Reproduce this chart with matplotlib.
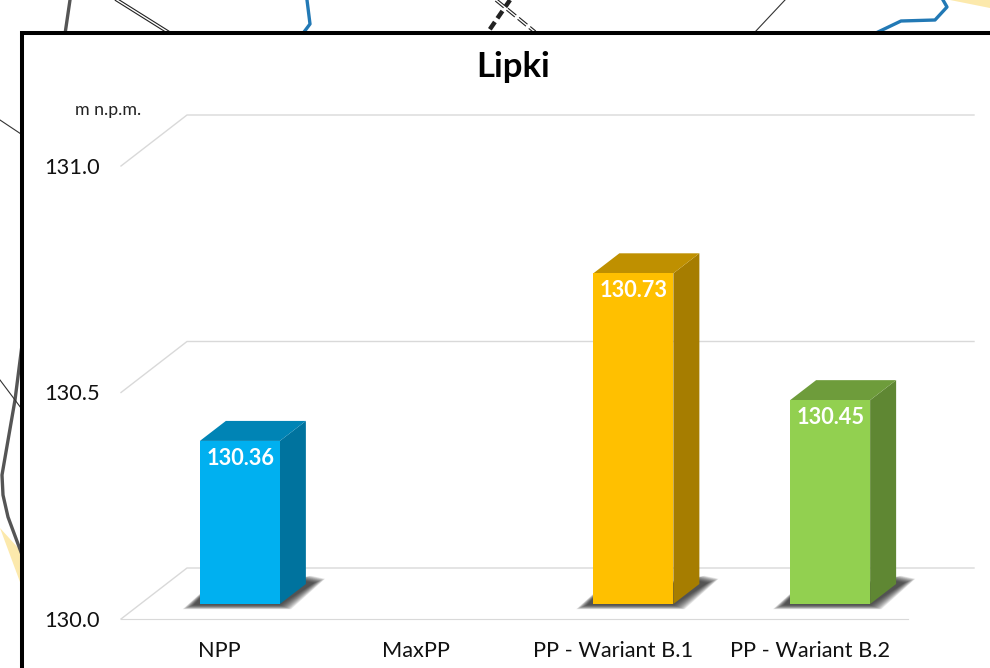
import matplotlib
matplotlib.use("Agg")
import matplotlib.pyplot as plt
from matplotlib.patches import Rectangle

plt.rcParams["font.family"] = ["Lato", "DejaVu Sans"]

W, H = 990, 668

title = "Lipki"
unit = "m n.p.m."
categories = ["NPP", "MaxPP", "PP - Wariant B.1", "PP - Wariant B.2"]
values = [130.36, None, 130.73, 130.45]
face_colors = ["#00B0F0", None, "#FFC000", "#92D050"]
top_colors = ["#0084B5", None, "#BF9000", "#6E9C3B"]
side_colors = ["#00739E", None, "#A67D00", "#5F8733"]
y_ticks = [130.0, 130.5, 131.0]

# map fragments behind the chart, in image pixels
map_dark = [[(70, 0), (65, 34)],
            [(22, 345), (15, 400), (2, 475), (3, 495), (8, 517), (21, 552)]]
map_thin = [[(0, 120), (21, 134)], [(0, 380), (21, 408)], [(755, 32), (785, 0)]]
map_blue = [[(307, 0), (310, 24), (304, 32)], [(878, 32), (901, 21), (935, 20), (947, 7), (943, 0)]]
map_double = [[(117, 0), (168, 32)]]
map_double_dashed = [[(496, 0), (535, 32)]]
map_dashed = [[(510, 0), (488, 32)]]
map_yellow = [[(0, 528), (20, 550), (20, 582)], [(950, 0), (990, 0), (990, 8)]]

fig = plt.figure(figsize=(W / 100, H / 100), dpi=100)

bg = fig.add_axes([0, 0, 1, 1])
bg.set_xlim(0, W)
bg.set_ylim(H, 0)
bg.axis("off")
for pts in map_yellow:
    bg.fill(*zip(*pts), color="#FCE9AC", lw=0)
for pts in map_dark:
    bg.plot(*zip(*pts), color="#555555", lw=2.4)
for pts in map_thin:
    bg.plot(*zip(*pts), color="#333333", lw=0.8)
for pts in map_blue:
    bg.plot(*zip(*pts), color="#2279B5", lw=2.4)
for pts in map_dashed:
    bg.plot(*zip(*pts), color="#222222", lw=3.2, ls=(0, (2, 1)))
for pts in map_double:
    bg.plot(*zip(*pts), color="#222222", lw=2.6)
    bg.plot(*zip(*pts), color="white", lw=1.0)
for pts in map_double_dashed:
    bg.plot(*zip(*pts), color="#222222", lw=2.6, ls=(0, (3, 1)))
    bg.plot(*zip(*pts), color="white", lw=1.0)
bg.add_patch(Rectangle((22, 33), 1100, 800, fc="white", ec="black", lw=2.9, zorder=5))

# plot area: front plane of the 3d chart
left, right, bottom, top = 121, 908, 619, 166
ax = fig.add_axes([left / W, 1 - bottom / H, (right - left) / W, (bottom - top) / H])
ax.patch.set_alpha(0)
ax.set_xlim(-0.5, 3.5)
ax.set_ylim(130, 131)
px_x = 4 / (right - left)
px_y = 1 / (bottom - top)

grid = "#D9D9D9"
wall_dx, wall_dy = 66 * px_x, 51 * px_y
for t in y_ticks:
    ax.plot([-0.5, -0.5 + wall_dx, 3.5 + wall_dx], [t, t + wall_dy, t + wall_dy],
            color=grid, lw=1, clip_on=False, zorder=1)

for s in ["top", "left", "right"]:
    ax.spines[s].set_visible(False)
ax.spines["bottom"].set_color(grid)
ax.set_yticks(y_ticks, [f"{t:.1f}" for t in y_ticks])
ax.set_xticks(range(len(categories)), categories)
ax.tick_params(axis="both", length=0, labelcolor="#111111", labelsize=15.7)
ax.tick_params(axis="y", pad=15)
ax.tick_params(axis="x", pad=16)

bar_w = 80 * px_x
shift_x, shift_y = 20.5 * px_x, 15 * px_y
depth_x, depth_y = 26 * px_x, 20 * px_y

for i, v in enumerate(values):
    if v is None:
        continue
    l = i + shift_x - bar_w / 2
    r = l + bar_w
    base = 130 + shift_y
    h = v - 130
    # soft shadow on the floor, many faint layers
    for grow in range(14, -1, -1):
        gx, gy = grow * 0.8 * px_x, grow * 0.3 * px_y
        ax.fill([l - 6 * px_x - gx, r + gx, r + 34 * px_x + gx, r + 20 * px_x + gx, l],
                [base - 1 * px_y - gy, base - 1 * px_y - gy, base + 21 * px_y + gy, base + 24 * px_y + gy, base + 6 * px_y + gy],
                color="#222222", alpha=0.09, lw=0, zorder=2, clip_on=False)
    ax.bar(i + shift_x, h, bar_w, bottom=base, color=face_colors[i], zorder=4)
    ax.fill([r, r + depth_x, r + depth_x, r],
            [base, base + depth_y, base + h + depth_y, base + h],
            color=side_colors[i], lw=0, zorder=3, clip_on=False)
    ax.fill([l, l + depth_x, r + depth_x, r],
            [base + h, base + h + depth_y, base + h + depth_y, base + h],
            color=top_colors[i], lw=0, zorder=3, clip_on=False)
    ax.annotate(f"{v:.2f}", (i + shift_x, base + h), xytext=(0.5, -12.7), textcoords="offset points",
                ha="center", va="center", color="white", fontsize=15.7, fontweight="bold", zorder=6)

fig.text(513.5 / W, 1 - 67 / H, title, ha="center", va="center", fontsize=25, fontweight="bold", color="black")
fig.text(108.5 / W, 1 - 110 / H, unit, ha="center", va="center", fontsize=12.8, color="#222222")

fig.savefig("out.png", dpi=100)
